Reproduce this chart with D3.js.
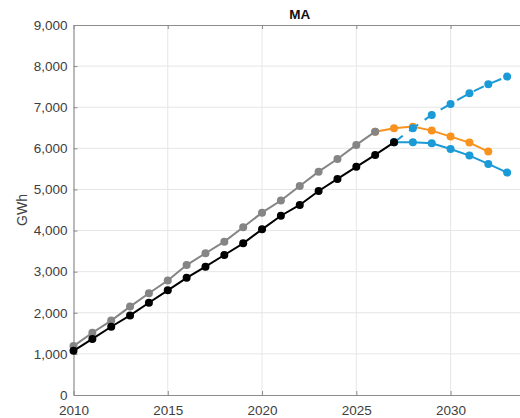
<!DOCTYPE html>
<html>
<head>
<meta charset="utf-8">
<script src="https://cdn.jsdelivr.net/npm/d3@7/dist/d3.min.js"></script>
<style>
  html, body { margin: 0; padding: 0; background: #fff; }
  svg { display: block; font-family: "Liberation Sans", Arial, Helvetica, sans-serif; }
</style>
</head>
<body>
<svg id="chart" width="520" height="418"></svg>
<script>
// Annual electricity (GWh), MA
const histYears = d3.range(2010, 2028);
const histBlack = [1075, 1365, 1660, 1935, 2245, 2545, 2850, 3122, 3405, 3690, 4030, 4360, 4622, 4962, 5255, 5550, 5840, 6145];

const grayYears = d3.range(2010, 2027);
const histGray = [1190, 1515, 1810, 2150, 2475, 2785, 3160, 3448, 3730, 4080, 4436, 4730, 5085, 5433, 5740, 6083, 6406];

const orangeYears = d3.range(2026, 2033);
const orangeVals = [6406, 6489, 6528, 6431, 6285, 6139, 5920];

const blueYears = d3.range(2027, 2034);
const blueSolid = [6145, 6150, 6124, 5985, 5823, 5620, 5410];
const blueDashed = [6145, 6489, 6813, 7080, 7340, 7560, 7745];

const xTicks = [2010, 2015, 2020, 2025, 2030];
const yTicks = [0, 1000, 2000, 3000, 4000, 5000, 6000, 7000, 8000, 9000];

(function draw() {
  const svg = d3.select("#chart");
  const mLeft = 73.5, mTop = 25, mBottom = 395, mRight = 526;

  const x = d3.scaleLinear().domain([2010, 2034]).range([mLeft, mRight]);
  const y = d3.scaleLinear().domain([0, 9000]).range([mBottom, mTop]);

  // grid
  const grid = svg.append("g");
  grid.selectAll("line.gx").data(xTicks.slice(1)).join("line")
    .attr("x1", d => x(d)).attr("x2", d => x(d)).attr("y1", mTop).attr("y2", mBottom)
    .attr("stroke", "#e6e6e6").attr("stroke-width", 1);
  grid.selectAll("line.gy").data(yTicks.slice(1, -1)).join("line")
    .attr("y1", d => y(d)).attr("y2", d => y(d)).attr("x1", mLeft).attr("x2", mRight)
    .attr("stroke", "#e6e6e6").attr("stroke-width", 1);

  // axes
  const axisColor = "#8c8c8c";
  const xAxis = svg.append("g").attr("transform", `translate(0,${mBottom})`)
    .call(d3.axisBottom(x).tickValues(xTicks).tickFormat(d3.format("d")).tickSizeInner(-4).tickSizeOuter(0).tickPadding(10));
  const xTop = svg.append("g").attr("transform", `translate(0,${mTop})`)
    .call(d3.axisTop(x).tickValues(xTicks).tickFormat("").tickSizeInner(-4).tickSizeOuter(0));
  const yAxis = svg.append("g").attr("transform", `translate(${mLeft},0)`)
    .call(d3.axisLeft(y).tickValues(yTicks).tickFormat(d3.format(",")).tickSizeInner(-4).tickSizeOuter(0).tickPadding(6));

  [xAxis, xTop, yAxis].forEach(g => {
    g.select(".domain").attr("stroke", axisColor).attr("stroke-width", 1.2);
    g.selectAll(".tick line").attr("stroke", axisColor);
    g.selectAll(".tick text").attr("fill", "#404040").attr("font-size", 13.5);
  });

  // axis labels
  svg.append("text")
    .attr("transform", `translate(27,${(mTop + mBottom) / 2}) rotate(-90)`)
    .attr("text-anchor", "middle")
    .attr("font-size", 14).attr("fill", "#404040")
    .text("GWh");

  svg.append("text")
    .attr("x", (mLeft + mRight) / 2).attr("y", 19)
    .attr("text-anchor", "middle")
    .attr("font-size", 13.5).attr("font-weight", "bold").attr("fill", "#111")
    .text("MA");

  const line = d3.line().x(d => x(d[0])).y(d => y(d[1]));

  function series(years, vals, color, dash) {
    const pts = years.map((yr, i) => [yr, vals[i]]);
    const g = svg.append("g");
    g.append("path").datum(pts)
      .attr("d", line).attr("fill", "none")
      .attr("stroke", color).attr("stroke-width", 2)
      .attr("stroke-dasharray", dash || null);
    g.selectAll("circle").data(pts).join("circle")
      .attr("cx", d => x(d[0])).attr("cy", d => y(d[1]))
      .attr("r", 4).attr("fill", color);
  }

  series(orangeYears, orangeVals, "#f7931e");
  series(blueYears, blueSolid, "#1a9ad6");
  series(blueYears, blueDashed, "#1a9ad6", "11,8");
  series(grayYears, histGray, "#858585");
  series(histYears, histBlack, "#000000");
})();
</script>
</body>
</html>
